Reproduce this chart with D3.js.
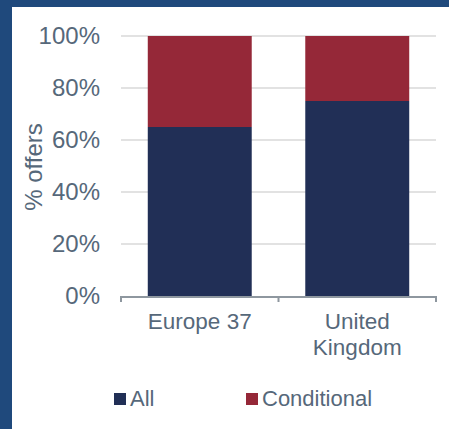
<!DOCTYPE html>
<html><head><meta charset="utf-8">
<script src="https://cdn.jsdelivr.net/npm/d3@7"></script>
<style>
html,body{margin:0;padding:0;background:#fff;}
svg{display:block;font-family:"Liberation Sans",Arial,sans-serif;}
</style></head>
<body>
<script>
const categories = ["Europe 37", "United Kingdom"];
const categoryLines = [["Europe 37"], ["United", "Kingdom"]];
const allValues = [0.65, 0.75];
const conditionalValues = [0.35, 0.25];
const seriesNames = ["All", "Conditional"];
const seriesColors = ["#212f56", "#952838"];
const yTicks = [0, 0.2, 0.4, 0.6, 0.8, 1.0];

const W = 449, H = 429;
const textColor = "#56687a";
const svg = d3.select("body").append("svg").attr("width", W).attr("height", H);

// frame
svg.append("rect").attr("x",0).attr("y",0).attr("width",W).attr("height",H).attr("fill","#fff");
svg.append("rect").attr("x",0).attr("y",0).attr("width",W).attr("height",7).attr("fill","#1f497c");
svg.append("rect").attr("x",0).attr("y",0).attr("width",12).attr("height",H).attr("fill","#1f497c");

const x0 = 121, x1 = 436, yTop = 36, yBot = 296;
const x = d3.scaleBand().domain(categories).range([x0, x1]).paddingInner(0.34).paddingOuter(0.17);
const y = d3.scaleLinear().domain([0, 1]).range([yBot, yTop]);

// gridlines
svg.append("g").selectAll("line").data(yTicks.filter(t => t > 0)).join("line")
  .attr("x1", x0).attr("x2", x1).attr("y1", d => y(d)).attr("y2", d => y(d))
  .attr("stroke", "#d9d9d9").attr("stroke-width", 1.5);

// y tick labels
svg.append("g").selectAll("text").data(yTicks).join("text")
  .attr("x", 100).attr("y", d => y(d)).attr("dy", "0.35em")
  .attr("text-anchor", "end").attr("fill", textColor).attr("font-size", 24)
  .text(d => d3.format(".0%")(d));

// stacked bars
const stackData = categories.map((c, i) => ({cat: c, All: allValues[i], Conditional: conditionalValues[i]}));
const stack = d3.stack().keys(seriesNames)(stackData);
svg.append("g").selectAll("g").data(stack).join("g")
  .attr("fill", (d, i) => seriesColors[i])
  .selectAll("rect").data(d => d).join("rect")
  .attr("x", d => x(d.data.cat)).attr("width", x.bandwidth())
  .attr("y", d => y(d[1])).attr("height", d => y(d[0]) - y(d[1]));

// x axis line & ticks
const axisColor = "#8e979f";
svg.append("line").attr("x1", x0).attr("x2", x1).attr("y1", yBot + 1).attr("y2", yBot + 1)
  .attr("stroke", axisColor).attr("stroke-width", 2);
const boundaries = [x0].concat(categories.map(c => x(c) + x.bandwidth() + x.step() * x.paddingInner() / 2));
boundaries[boundaries.length - 1] = x1;
svg.append("g").selectAll("line").data(boundaries).join("line")
  .attr("x1", d => d).attr("x2", d => d).attr("y1", yBot).attr("y2", yBot + 6)
  .attr("stroke", axisColor).attr("stroke-width", 2);

// category labels
categories.forEach((c, i) => {
  const t = svg.append("text").attr("text-anchor", "middle").attr("fill", textColor).attr("font-size", 22.5)
    .attr("x", x(c) + x.bandwidth() / 2).attr("y", 329);
  categoryLines[i].forEach((line, j) => {
    t.append("tspan").attr("x", x(c) + x.bandwidth() / 2).attr("dy", j === 0 ? 0 : 26).text(line);
  });
});

// y axis title
svg.append("text").attr("transform", "translate(42,167) rotate(-90)")
  .attr("text-anchor", "middle").attr("fill", textColor).attr("font-size", 24).text("% offers");

// legend
const legendX = [114, 246];
const lg = svg.append("g").selectAll("g").data(seriesNames).join("g")
  .attr("transform", (d, i) => `translate(${legendX[i]},393)`);
lg.append("rect").attr("width", 12).attr("height", 12).attr("fill", (d, i) => seriesColors[i]);
lg.append("text").attr("x", 16).attr("y", 13).attr("fill", textColor).attr("font-size", 22).text(d => d);
</script>
</body></html>
